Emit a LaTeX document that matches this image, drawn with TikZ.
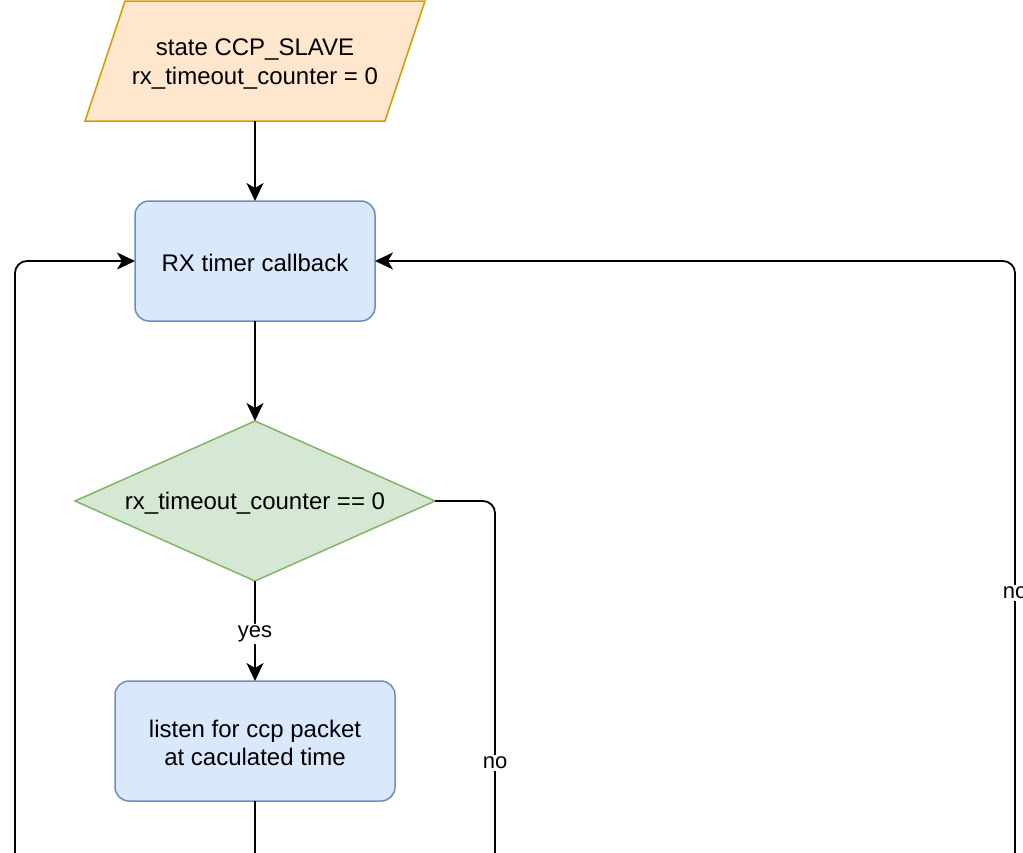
\documentclass[tikz,border=0pt]{standalone}
\usepackage{fontspec}
\setmainfont{Liberation Sans}
\usetikzlibrary{arrows.meta,shapes.geometric,calc}
\definecolor{orfill}{HTML}{FFE6CC}
\definecolor{ordraw}{HTML}{D79B00}
\definecolor{blfill}{HTML}{DAE8FC}
\definecolor{bldraw}{HTML}{6C8EBF}
\definecolor{grfill}{HTML}{D5E8D4}
\definecolor{grdraw}{HTML}{82B366}
\tikzset{
  proc/.style={draw=bldraw,fill=blfill,line width=0.75pt,rounded corners=7pt},
  para/.style={draw=ordraw,fill=orfill,line width=0.75pt},
  dec/.style={draw=grdraw,fill=grfill,line width=0.75pt},
  txt/.style={font=\fontsize{12pt}{14.2pt}\selectfont,align=center,inner sep=0pt},
  conn/.style={line width=0.9pt,rounded corners=6pt,-{Stealth[length=9pt,width=8.5pt,inset=2.5pt]}},
  line/.style={line width=0.9pt,rounded corners=6pt},
  lbl/.style={fill=white,font=\fontsize{11pt}{13pt}\selectfont,inner sep=1pt}
}
\begin{document}
\begin{tikzpicture}[x=0.5pt,y=-0.5pt]
\useasboundingbox (0,0) rectangle (1023,852);
\clip (0,0) rectangle (1023,852);
% parallelogram
\draw[para] (125,1) -- (425,1) -- (385,121) -- (85,121) -- cycle;
\node[txt] (start) at (255,64) {state CCP\_SLAVE\\rx\_timeout\_counter = 0};
\coordinate (startb) at (255,121);
% RX timer callback
\draw[proc] (135,201) rectangle (375,321);
\node[txt] (rx) at (255,263) {RX timer callback};
\coordinate (rxt) at (255,201);
\coordinate (rxb) at (255,321);
\coordinate (rxl) at (135,261);
\coordinate (rxr) at (375,261);
% diamond
\draw[dec] (75,501) -- (255,421) -- (435,501) -- (255,581) -- cycle;
\node[txt] (dia) at (255,503) {rx\_timeout\_counter == 0};
\coordinate (diat) at (255,421);
\coordinate (diab) at (255,581);
\coordinate (diar) at (435,501);
% listen
\draw[proc] (115,681) rectangle (395,801);
\node[txt] (lis) at (255,743) {listen for ccp packet\\at caculated time};
\coordinate (list) at (255,681);
\coordinate (lisb) at (255,801);
% free ends at the bottom edge
\coordinate (bL) at (15,860);
\coordinate (bM) at (255,860);
\coordinate (bN) at (495,860);
\coordinate (bR) at (1015,860);
% connectors
\draw[conn] (startb) -- (rxt);
\draw[conn] (rxb) -- (diat);
\draw[conn] (diab) -- node[lbl,pos=0.5,yshift=-1.5pt] {yes} (list);
\draw[line] (diar) -- (495,501) -- (bN);
\node[lbl] (no1) at (495,763) {no};
\draw[line] (lisb) -- (bM);
\draw[conn] (bL) -- (15,261) -- (rxl);
\draw[conn] (bR) -- (1015,261) -- (rxr);
\node[lbl] (no2) at (1015,593) {no};
\end{tikzpicture}
\end{document}
